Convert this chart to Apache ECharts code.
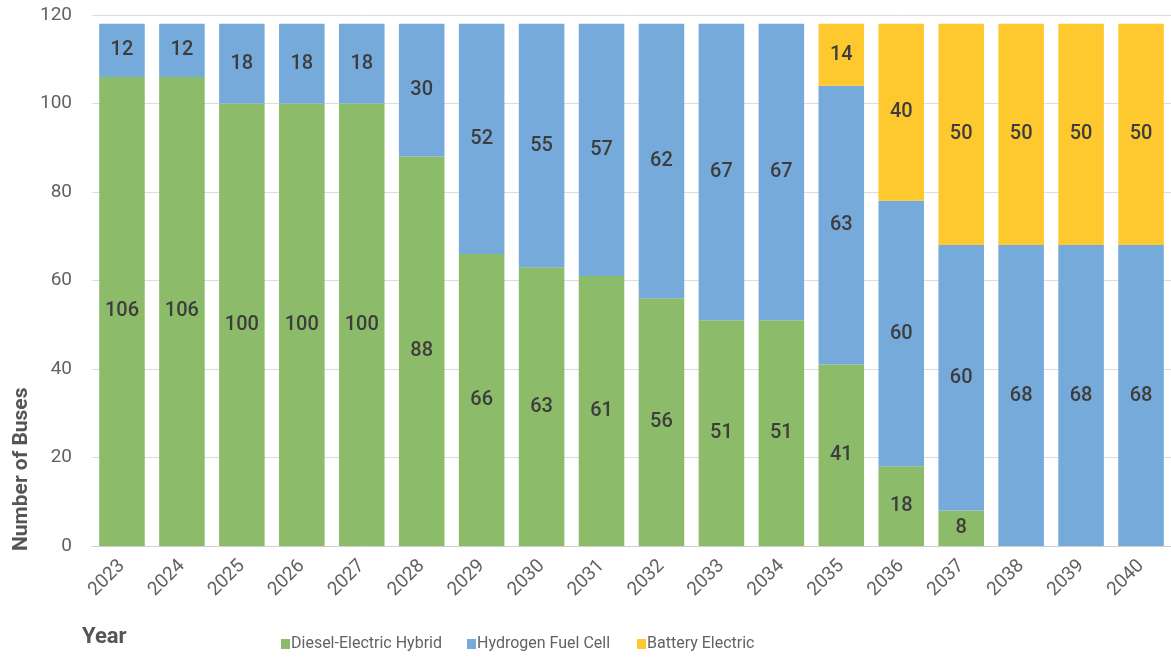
<!DOCTYPE html>
<html>
<head>
<meta charset="utf-8">
<script src="https://cdn.jsdelivr.net/npm/echarts@6/dist/echarts.min.js"></script>
<style>
  html, body { margin: 0; padding: 0; background: #fff; }
  #chart { width: 1171px; height: 658px; }
</style>
</head>
<body>
<div id="chart"></div>
<script>
// 数据
const years = ['2023', '2024', '2025', '2026', '2027', '2028', '2029', '2030', '2031',
  '2032', '2033', '2034', '2035', '2036', '2037', '2038', '2039', '2040']
const diesel = [106, 106, 100, 100, 100, 88, 66, 63, 61, 56, 51, 51, 41, 18, 8, 0, 0, 0]
const hydrogen = [12, 12, 18, 18, 18, 30, 52, 55, 57, 62, 67, 67, 63, 60, 60, 68, 68, 68]
const battery = [0, 0, 0, 0, 0, 0, 0, 0, 0, 0, 0, 0, 14, 40, 50, 50, 50, 50]
const yTicks = [0, 20, 40, 60, 80, 100, 120]
const seriesNames = ['Diesel-Electric Hybrid', 'Hydrogen Fuel Cell', 'Battery Electric']

const textColor = '#626262'
const labelColor = '#3d3d3d'
const font = 'Roboto, "Noto Sans", sans-serif'

function makeSeries(name, data, color) {
  return {
    name,
    type: 'bar',
    stack: 'total',
    data,
    barCategoryGap: '24%',
    itemStyle: { color },
    label: {
      show: true,
      position: 'inside',
      color: labelColor,
      fontSize: 20,
      fontFamily: font,
      fontWeight: 500,
      formatter: p => (p.value > 0 ? p.value : ''),
    },
    emphasis: { disabled: true },
  }
}

// 图例分开摆放，和原图位置对齐
function makeLegend(name, left) {
  return {
    left,
    top: 631,
    itemWidth: 9,
    itemHeight: 10,
    icon: 'rect',
    textStyle: { color: textColor, fontSize: 16, fontFamily: font, padding: [0, 0, 0, -4] },
    data: [name],
  }
}

const chart = echarts.init(document.getElementById('chart'))
chart.setOption({
  animation: false,
  textStyle: { fontFamily: font },
  grid: { left: 92, top: 15, width: 1085, height: 531, containLabel: false },
  xAxis: {
    type: 'category',
    data: years,
    axisLine: { lineStyle: { color: '#cfcfcf' } },
    axisTick: { show: false },
    axisLabel: { rotate: 45, color: textColor, fontSize: 19, margin: 17, fontFamily: font },
  },
  yAxis: {
    type: 'value',
    min: yTicks[0],
    max: yTicks[yTicks.length - 1],
    interval: 20,
    axisLine: { show: false },
    axisTick: { show: false },
    axisLabel: { color: textColor, fontSize: 19, margin: 20, fontFamily: font },
    splitLine: { lineStyle: { color: '#dcdcdc' } },
  },
  legend: [
    makeLegend(seriesNames[0], 276),
    makeLegend(seriesNames[1], 462),
    makeLegend(seriesNames[2], 632),
  ],
  graphic: [
    {
      type: 'text',
      x: 11,
      y: 551,
      rotation: Math.PI / 2,
      style: { text: 'Number of Buses', fill: '#555555', font: `bold 21px ${font}` },
    },
    {
      type: 'text',
      x: 82,
      y: 626,
      style: { text: 'Year', fill: '#555555', font: `bold 22px ${font}` },
    },
  ],
  series: [
    makeSeries(seriesNames[0], diesel, '#8cbc69'),
    makeSeries(seriesNames[1], hydrogen, '#76aadb'),
    makeSeries(seriesNames[2], battery, '#fec92e'),
  ],
})
</script>
</body>
</html>
